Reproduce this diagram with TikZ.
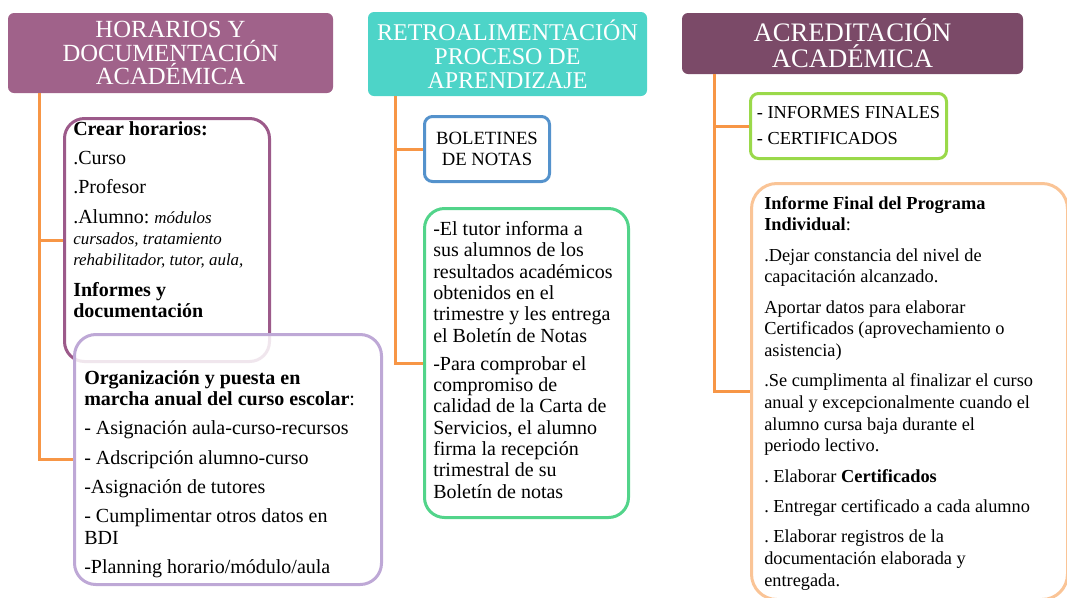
\documentclass[tikz,border=0pt]{standalone}
\usepackage{fontspec}
\setmainfont{Liberation Serif}
\usepackage{tikz}
\usepackage{xcolor}
\frenchspacing

\definecolor{hdrA}{RGB}{160,98,138}
\definecolor{hdrB}{RGB}{77,212,200}
\definecolor{hdrC}{RGB}{123,74,104}
\definecolor{lineorange}{RGB}{247,150,70}
\definecolor{bdrCrear}{RGB}{156,90,138}
\definecolor{bdrOrg}{RGB}{190,168,214}
\definecolor{bdrBol}{RGB}{84,146,204}
\definecolor{bdrTutor}{RGB}{82,212,138}
\definecolor{bdrInf}{RGB}{154,217,74}
\definecolor{bdrFinal}{RGB}{250,196,150}

\newcommand{\smit}[1]{{\fontsize{12.7}{16}\selectfont\itshape #1}}

\begin{document}
\begin{tikzpicture}[x=0.75pt,y=0.75pt,yscale=-1,xscale=1,
	hdr/.style={fill=#1, rounded corners=4.5pt, inner sep=1pt, align=center, text=white, font=\fontsize{18.5}{17.5}\selectfont},
	frame/.style={draw=#1, line width=2.25pt, fill=white, inner sep=0pt, anchor=north west},
	txt/.style={anchor=north west, inner sep=0pt, align=left, font=\fontsize{15}{16}\selectfont},
	link/.style={draw=lineorange, line width=2.25pt}]
			%set diagram size 1067 x 597
			\useasboundingbox (0,0) rectangle (1067,597);

			% Header Nodes
			\node [hdr=hdrA, minimum width=243.75pt, minimum height=60pt] (horarios) at (170.5,53) {HORARIOS Y\\DOCUMENTACIÓN\\ACADÉMICA};
			\node [hdr=hdrB, minimum width=209.25pt, minimum height=63pt, font=\fontsize{18}{18}\selectfont] (retro) at (507.5,54) {RETROALIMENTACIÓN\\PROCESO DE\\APRENDIZAJE};
			\node [hdr=hdrC, minimum width=255.75pt, minimum height=45.75pt, font=\fontsize{20}{19.5}\selectfont] (acredita) at (852.5,43.5) {ACREDITACIÓN\\ACADÉMICA};

			% Rounded Rect
			\node [frame=bdrCrear, rounded corners=15pt, minimum width=153.75pt, minimum height=182.25pt] (crear) at (63,117) {};
			% Rounded Rect
			\node [frame=bdrOrg, fill opacity=0.85, rounded corners=16pt, minimum width=230.25pt, minimum height=187.5pt] (organiza) at (73,333) {};
			% Rounded Rect
			\node [frame=bdrBol, rounded corners=6pt, minimum width=93.75pt, minimum height=48.75pt, align=center, font=\fontsize{14}{16}\selectfont] (boletines) at (423,115) {BOLETINES\\DE NOTAS};
			% Rounded Rect
			\node [frame=bdrTutor, rounded corners=15pt, minimum width=153pt, minimum height=231.75pt] (tutor) at (423,207) {};
			% Rounded Rect
			\node [frame=bdrInf, rounded corners=6pt, minimum width=147pt, minimum height=48.75pt, align=left, font=\fontsize{13.75}{16}\selectfont] (informes) at (749,92) {- INFORMES FINALES\\[3.5pt]- CERTIFICADOS};
			% Rounded Rect
			\node [frame=bdrFinal, rounded corners=19pt, minimum width=237pt, minimum height=312pt] (final) at (750,182) {};

			%Straight Lines
			\draw [link] ([shift={(32,0)}]horarios.south west) |- (crear.west);
			\draw [link] ([shift={(32,0)}]horarios.south west) |- (organiza.west);
			\draw [link] ([shift={(28,0)}]retro.south west) |- (boletines.west);
			\draw [link] ([shift={(28,0)}]retro.south west) |- (tutor.west);
			\draw [link] ([shift={(33,0)}]acredita.south west) |- (informes.west);
			\draw [link] ([shift={(33,0)}]acredita.south west) |- (final.west);

			% Text Node
			\node [txt] (crearT) at (73,121) {\textbf{Crear horarios:}\\[6pt]
				.Curso\\[6pt]
				.Profesor\\[6pt]
				.Alumno: \smit{módulos}\\
				\smit{cursados, tratamiento}\\
				\smit{rehabilitador, tutor, aula,}\\[7pt]
				\textbf{Informes y}\\
				\textbf{documentación}};
			% Text Node
			\node [txt] (organizaT) at (84,370) {\textbf{Organización y puesta en}\\
				\textbf{marcha anual del curso escolar}:\\[6pt]
				- Asignación aula-curso-recursos\\[6pt]
				- Adscripción alumno-curso\\[6pt]
				-Asignación de tutores\\[6pt]
				- Cumplimentar otros datos en\\
				BDI\\[6pt]
				-Planning horario/módulo/aula};
			% Text Node
			\node [txt] (tutorT) at (433,221) {-El tutor informa a\\
				sus alumnos de los\\
				resultados académicos\\
				obtenidos en el\\
				trimestre y les entrega\\
				el Boletín de Notas\\[5pt]
				-Para comprobar el\\
				compromiso de\\
				calidad de la Carta de\\
				Servicios, el alumno\\
				firma la recepción\\
				trimestral de su\\
				Boletín de notas};
			% Text Node
			\node [txt, font=\fontsize{13.75}{16.25}\selectfont] (finalT) at (764,196) {\textbf{Informe Final del Programa}\\
				\textbf{Individual}:\\[6.5pt]
				.Dejar constancia del nivel de\\
				capacitación alcanzado.\\[6.5pt]
				Aportar datos para elaborar\\
				Certificados (aprovechamiento o\\
				asistencia)\\[6.5pt]
				.Se cumplimenta al finalizar el curso\\
				anual y excepcionalmente cuando el\\
				alumno cursa baja durante el\\
				periodo lectivo.\\[6.5pt]
				. Elaborar \textbf{Certificados}\\[6.5pt]
				. Entregar certificado a cada alumno\\[6.5pt]
				. Elaborar registros de la\\
				documentación elaborada y\\
				entregada.};
\end{tikzpicture}
\end{document}
